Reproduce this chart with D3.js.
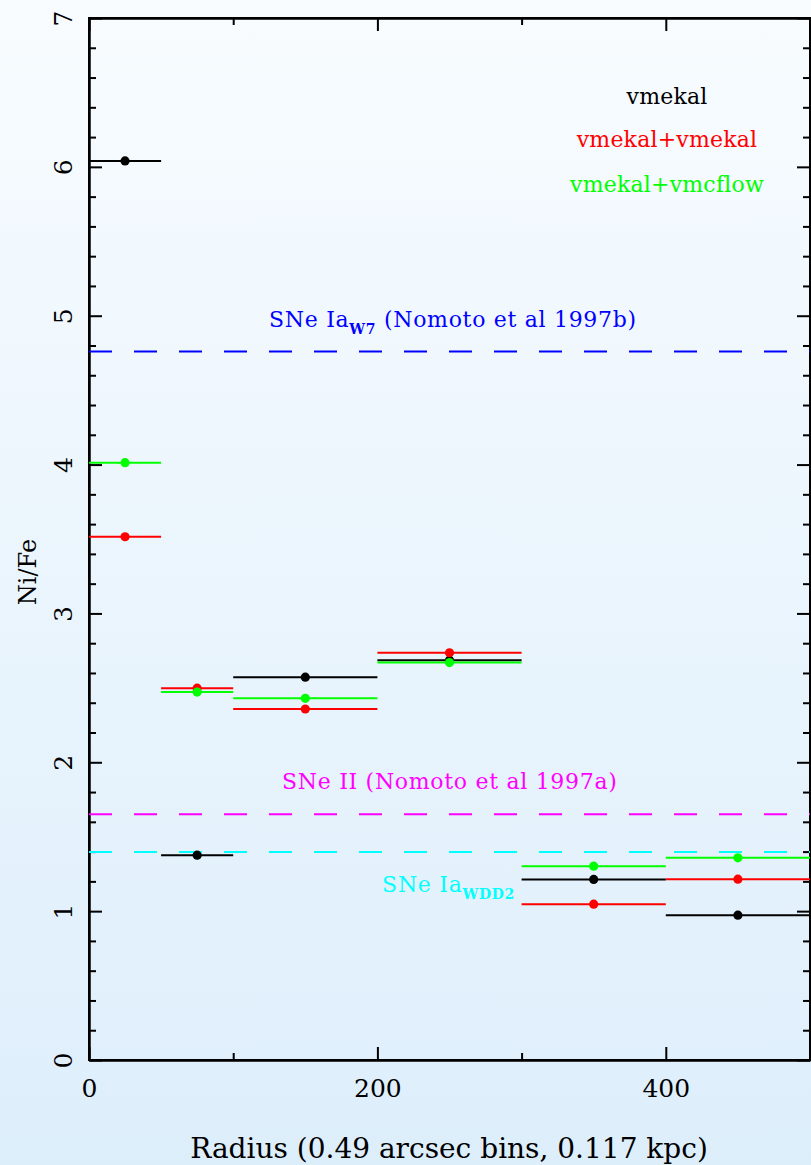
<!DOCTYPE html>
<meta charset="utf-8">
<style>
html, body { margin: 0; padding: 0; }
body {
    width: 811px; height: 1165px; overflow: hidden;
    background: linear-gradient(to bottom, #f8fcff 0%, #ddeefb 100%);
    font-family: "DejaVu Serif", serif;
}
.axis path, .axis line { fill: none; stroke: #000; stroke-width: 2; }
.axis text { font-family: "DejaVu Serif", serif; font-size: 25px; fill: #000; }
.bar { stroke-width: 2; }
.ref { stroke-width: 2; stroke-dasharray: 23 22; }
.note { font-size: 22px; letter-spacing: 0.7px; }
.leg { font-size: 22px; text-anchor: middle; letter-spacing: 0.2px; }
</style>
<body>
<script src="https://cdn.jsdelivr.net/npm/d3@7"></script>
<script>

// radial bins (0.49 arcsec each)
var binLo = [0, 50, 100, 200, 300, 400];
var binHi = [50, 100, 200, 300, 400, 500];
var binMid = [25, 75, 150, 250, 350, 450];

// Ni/Fe for each model
var vmekal       = [6.04, 1.376, 2.572, 2.685, 1.213, 0.973];
var vmekalVmekal = [3.515, 2.498, 2.358, 2.736, 1.047, 1.215];
var vmekalFlow   = [4.013, 2.472, 2.430, 2.670, 1.302, 1.358];

// theoretical yields
var snW7 = 4.76, snII = 1.651, snWDD2 = 1.398;

var xMajor = [0, 200, 400], xMinor = [100, 300];
var yMajor = [0, 1, 2, 3, 4, 5, 6, 7];
var yMinor = d3.range(0, 35).map(function(i) { return i * 0.2; })
               .filter(function(v) { return Math.abs(v - Math.round(v)) > 0.01; });

var W = 811, H = 1165;
var x = d3.scaleLinear().domain([0, 500]).range([89, 810]);
var y = d3.scaleLinear().domain([0, 7]).range([1060, 18]);

var svg = d3.select("body").append("svg")
    .attr("width", W).attr("height", H)
    .style("display", "block");

// frame
svg.append("rect")
    .attr("x", x(0)).attr("y", y(7))
    .attr("width", x(500) - x(0)).attr("height", y(0) - y(7))
    .attr("fill", "none").attr("stroke", "#000").attr("stroke-width", 2);

// bottom axis, ticks pointing in
svg.append("g").attr("class", "axis")
    .attr("transform", "translate(0," + y(0) + ")")
    .call(d3.axisBottom(x).tickValues(xMajor).tickSize(-13).tickSizeOuter(0).tickFormat(d3.format("d")))
    .call(function(g) { g.selectAll("text").attr("y", 37).attr("dy", 0); });
svg.append("g").attr("class", "axis")
    .attr("transform", "translate(0," + y(0) + ")")
    .call(d3.axisBottom(x).tickValues(xMinor).tickSize(-7).tickSizeOuter(0).tickFormat(""));

// top axis
svg.append("g").attr("class", "axis")
    .attr("transform", "translate(0," + y(7) + ")")
    .call(d3.axisTop(x).tickValues(xMajor).tickSize(-13).tickSizeOuter(0).tickFormat(""));
svg.append("g").attr("class", "axis")
    .attr("transform", "translate(0," + y(7) + ")")
    .call(d3.axisTop(x).tickValues(xMinor).tickSize(-7).tickSizeOuter(0).tickFormat(""));

// left axis, rotated labels
svg.append("g").attr("class", "axis")
    .attr("transform", "translate(" + x(0) + ",0)")
    .call(d3.axisLeft(y).tickValues(yMajor).tickSize(-13).tickSizeOuter(0).tickFormat(d3.format("d")))
    .call(function(g) {
        g.selectAll("text")
            .attr("x", 0).attr("dy", 0)
            .attr("text-anchor", "middle")
            .attr("transform", "translate(-17,0) rotate(-90)");
    });
svg.append("g").attr("class", "axis")
    .attr("transform", "translate(" + x(0) + ",0)")
    .call(d3.axisLeft(y).tickValues(yMinor).tickSize(-7).tickSizeOuter(0).tickFormat(""));

// right axis
svg.append("g").attr("class", "axis")
    .attr("transform", "translate(" + x(500) + ",0)")
    .call(d3.axisRight(y).tickValues(yMajor).tickSize(-13).tickSizeOuter(0).tickFormat(""));
svg.append("g").attr("class", "axis")
    .attr("transform", "translate(" + x(500) + ",0)")
    .call(d3.axisRight(y).tickValues(yMinor).tickSize(-7).tickSizeOuter(0).tickFormat(""));

// reference lines
function refLine(v, col) {
    svg.append("line").attr("class", "ref")
        .attr("x1", x(0)).attr("x2", x(500))
        .attr("y1", y(v)).attr("y2", y(v))
        .attr("stroke", col);
}
refLine(snW7, "#0000ff");
refLine(snII, "#ff00ff");
refLine(snWDD2, "#00ffff");

// binned points with x error bars
function series(vals, col) {
    var g = svg.append("g");
    g.selectAll("line").data(vals).enter().append("line")
        .attr("class", "bar")
        .attr("x1", function(d, i) { return x(binLo[i]); })
        .attr("x2", function(d, i) { return x(binHi[i]); })
        .attr("y1", function(d) { return y(d); })
        .attr("y2", function(d) { return y(d); })
        .attr("stroke", col);
    g.selectAll("circle").data(vals).enter().append("circle")
        .attr("cx", function(d, i) { return x(binMid[i]); })
        .attr("cy", function(d) { return y(d); })
        .attr("r", 4.6)
        .attr("fill", col);
}
series(vmekal, "#000000");
series(vmekalVmekal, "#ff0000");
series(vmekalFlow, "#00ff00");

// annotations
var t1 = svg.append("text").attr("class", "note").attr("x", 269).attr("y", 327).attr("fill", "#0000ff");
t1.append("tspan").text("SNe Ia");
t1.append("tspan").attr("dy", 7).style("font-size", "14px").style("font-weight", "bold").text("W7");
t1.append("tspan").attr("dy", -7).text(" (Nomoto et al 1997b)");

svg.append("text").attr("class", "note").attr("x", 282).attr("y", 789)
    .attr("fill", "#ff00ff").text("SNe II (Nomoto et al 1997a)");

var t3 = svg.append("text").attr("class", "note").attr("x", 515).attr("y", 892)
    .attr("text-anchor", "end").attr("fill", "#00ffff");
t3.append("tspan").text("SNe Ia");
t3.append("tspan").attr("dy", 7).style("font-size", "14px").style("font-weight", "bold").text("WDD2");

// legend
svg.append("text").attr("class", "leg").attr("x", 667).attr("y", 104).attr("fill", "#000000").text("vmekal");
svg.append("text").attr("class", "leg").attr("x", 667).attr("y", 147).attr("fill", "#ff0000").text("vmekal+vmekal");
svg.append("text").attr("class", "leg").attr("x", 667).attr("y", 192).attr("fill", "#00ff00").text("vmekal+vmcflow");

// axis titles
svg.append("text").attr("x", 449).attr("y", 1158)
    .attr("text-anchor", "middle").style("font-size", "28px")
    .text("Radius (0.49 arcsec bins, 0.117 kpc)");
svg.append("text")
    .attr("text-anchor", "middle").style("font-size", "24px")
    .attr("transform", "translate(36,572) rotate(-90)")
    .text("Ni/Fe");

</script>
</body>
